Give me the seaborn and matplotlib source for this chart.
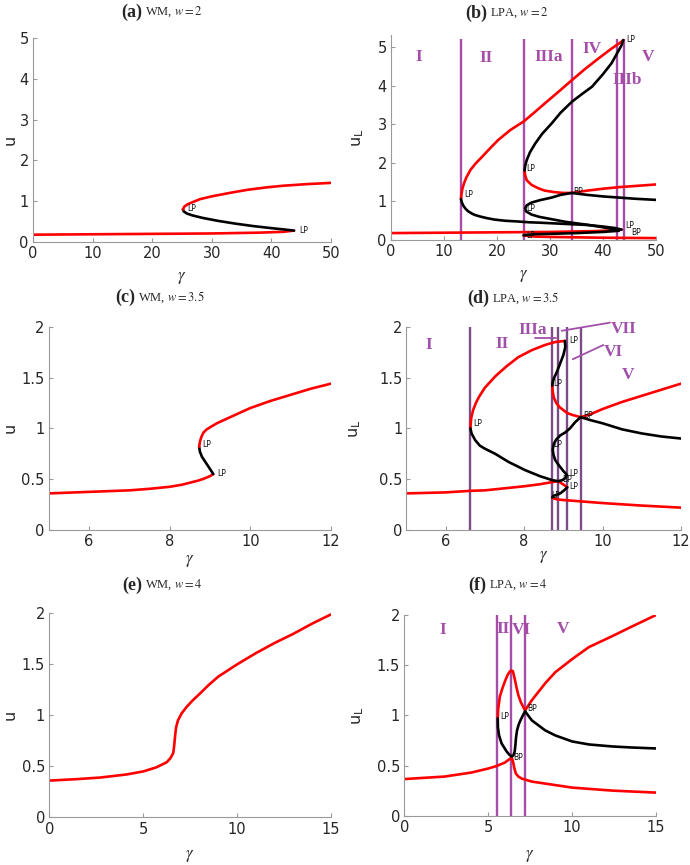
import seaborn as sns
import matplotlib.pyplot as plt
from matplotlib.ticker import FormatStrFormatter

# ---------------- (a) WM, w = 2 ----------------
a_red1_g = [0, 10, 20, 30, 38, 42, 43.8]
a_red1_u = [0.18, 0.19, 0.2, 0.21, 0.23, 0.25, 0.28]
a_blk_g = [43.8, 42, 40, 37, 34, 31, 28.5, 26.8, 25.8, 25.3, 25.15]
a_blk_u = [0.28, 0.31, 0.34, 0.39, 0.45, 0.52, 0.59, 0.65, 0.7, 0.75, 0.8]
a_red2_g = [25.15, 25.4, 26, 27, 28, 30, 33.6, 36, 39.2, 42, 46, 50]
a_red2_u = [0.8, 0.87, 0.93, 0.99, 1.05, 1.12, 1.22, 1.28, 1.34, 1.38, 1.42, 1.45]

# ---------------- (b) LPA, w = 2 ----------------
b_red1_g = [0, 10, 20, 30, 38, 42, 43.5]
b_red1_u = [0.18, 0.19, 0.2, 0.21, 0.23, 0.25, 0.27]
b_blk1_g = [43.5, 42.3, 40, 37, 34, 31, 28, 26, 24, 21.5, 19.5, 18, 16.8, 15.8, 15.2, 14.5, 14, 13.6, 13.35, 13.2]
b_blk1_u = [0.27, 0.31, 0.35, 0.39, 0.41, 0.43, 0.45, 0.46, 0.48, 0.5, 0.53, 0.57, 0.61, 0.65, 0.69, 0.75, 0.82, 0.9, 0.98, 1.06]
b_red2_g = [13.2, 13.3, 13.5, 13.8, 14.2, 15, 16, 17, 18.5, 20.2, 22.5, 25, 27, 29.1, 31.5, 34.1, 36.5, 39.1, 41.5, 43.5, 43.8]
b_red2_u = [1.06, 1.2, 1.35, 1.48, 1.62, 1.82, 1.99, 2.13, 2.35, 2.59, 2.85, 3.07, 3.3, 3.55, 3.83, 4.14, 4.42, 4.7, 4.95, 5.14, 5.18]
b_blk2_g = [43.8, 43.5, 42.5, 41.6, 40, 37.9, 36, 34.1, 32, 30.3, 28.5, 27.2, 26.2, 25.6, 25.3, 25.2]
b_blk2_u = [5.18, 5.05, 4.8, 4.58, 4.3, 3.97, 3.78, 3.58, 3.3, 3.02, 2.75, 2.5, 2.27, 2.07, 1.92, 1.8]
b_red3_g = [25.2, 25.3, 25.6, 26.5, 27.8, 29, 30.9, 32.5, 34.1, 37, 40, 43, 46, 50]
b_red3_u = [1.8, 1.68, 1.55, 1.43, 1.34, 1.28, 1.24, 1.22, 1.22, 1.28, 1.33, 1.37, 1.4, 1.44]
b_blk3_g = [34.1, 37, 40, 43, 46, 50]
b_blk3_u = [1.22, 1.17, 1.13, 1.1, 1.07, 1.04]
b_blk4_g = [34.1, 32, 30.3, 28, 26.5, 25.6, 25.3, 25.5, 26.5, 28, 30.3, 33, 37.3, 40, 42, 43]
b_blk4_u = [1.22, 1.17, 1.1, 1.03, 0.97, 0.9, 0.82, 0.74, 0.66, 0.6, 0.54, 0.47, 0.39, 0.33, 0.28, 0.26]
b_blk5_g = [43, 40, 35, 30, 27, 25.3, 25]
b_blk5_u = [0.24, 0.21, 0.18, 0.16, 0.15, 0.13, 0.12]
b_red4_g = [25, 27, 30, 35, 40, 45, 50]
b_red4_u = [0.12, 0.09, 0.08, 0.07, 0.06, 0.055, 0.05]
b_vlines = [13.2, 25, 34.1, 42.7, 43.9]
b_regions = ['I', 'II', 'IIIa', 'IV', 'V', 'IIIb']

# ---------------- (c) WM, w = 3.5 ----------------
c_red1_g = [5, 6, 7, 7.5, 8, 8.3, 8.5, 8.7, 8.85, 9.0, 9.08]
c_red1_u = [0.36, 0.375, 0.39, 0.405, 0.425, 0.445, 0.465, 0.485, 0.505, 0.53, 0.55]
c_blk_g = [9.08, 9.0, 8.9, 8.8, 8.75, 8.73]
c_blk_u = [0.55, 0.6, 0.66, 0.72, 0.77, 0.82]
c_red2_g = [8.73, 8.75, 8.79, 8.84, 8.92, 9.0, 9.17, 9.5, 10, 10.5, 11, 11.5, 12]
c_red2_u = [0.82, 0.87, 0.92, 0.96, 0.99, 1.01, 1.05, 1.11, 1.2, 1.27, 1.33, 1.39, 1.44]

# ---------------- (d) LPA, w = 3.5 ----------------
d_red1_g = [5, 6, 6.63, 7, 7.5, 8, 8.4, 8.7, 8.87]
d_red1_u = [0.36, 0.37, 0.385, 0.39, 0.41, 0.43, 0.45, 0.47, 0.48]
d_red2_g = [8.87, 8.95, 9.03, 9.1]
d_red2_u = [0.48, 0.46, 0.44, 0.42]
d_blk1_g = [9.1, 9.02, 8.92, 8.82, 8.74, 8.72]
d_blk1_u = [0.42, 0.39, 0.36, 0.345, 0.335, 0.32]
d_red3_g = [8.72, 8.76, 8.85, 9.0, 9.5, 10, 11, 12]
d_red3_u = [0.32, 0.31, 0.3, 0.295, 0.28, 0.265, 0.24, 0.22]
d_blk2_g = [6.63, 6.66, 6.75, 6.87, 7.0, 7.26, 7.6, 8.02, 8.4, 8.72, 8.87]
d_blk2_u = [1.0, 0.95, 0.885, 0.83, 0.8, 0.75, 0.67, 0.59, 0.53, 0.49, 0.48]
d_red4_g = [6.63, 6.65, 6.7, 6.77, 6.85, 7.0, 7.26, 7.55, 7.85, 8.2, 8.53, 8.8, 9.04]
d_red4_u = [1.0, 1.1, 1.18, 1.25, 1.31, 1.4, 1.51, 1.61, 1.7, 1.77, 1.82, 1.85, 1.86]
d_blk3_g = [9.04, 9.05, 9.0, 8.92, 8.84, 8.77, 8.73, 8.72]
d_blk3_u = [1.86, 1.8, 1.72, 1.64, 1.56, 1.5, 1.46, 1.42]
d_red5_g = [8.72, 8.73, 8.76, 8.82, 8.9, 9.0, 9.1, 9.25, 9.44, 9.7, 10, 10.5, 11, 11.5, 12]
d_red5_u = [1.42, 1.36, 1.3, 1.25, 1.21, 1.18, 1.15, 1.13, 1.11, 1.14, 1.19, 1.26, 1.32, 1.38, 1.44]
d_blk4_g = [9.44, 9.7, 10, 10.5, 11, 11.5, 12]
d_blk4_u = [1.11, 1.08, 1.05, 0.99, 0.95, 0.92, 0.9]
d_blk5_g = [9.44, 9.3, 9.17, 9.05, 8.92, 8.82, 8.76, 8.73, 8.75, 8.79, 8.86, 8.92, 9.0, 9.05, 9.09, 9.05, 8.97, 8.87]
d_blk5_u = [1.11, 1.06, 1.0, 0.96, 0.93, 0.89, 0.85, 0.79, 0.74, 0.69, 0.65, 0.62, 0.58, 0.56, 0.54, 0.51, 0.49, 0.48]
d_vlines = [6.63, 8.70, 8.87, 9.10, 9.44]

# ---------------- (e) WM, w = 4 ----------------
e_red_g = [0, 1.5, 2.7, 4.1, 5, 5.7, 6.25, 6.45, 6.6, 6.65, 6.7, 6.75, 6.85, 7.05, 7.3, 7.6,
           8.0, 8.5, 9, 10, 11, 12, 13, 14, 15]
e_red_u = [0.36, 0.375, 0.39, 0.42, 0.45, 0.49, 0.54, 0.58, 0.63, 0.7, 0.8, 0.88, 0.95, 1.02, 1.08, 1.14,
           1.21, 1.3, 1.38, 1.5, 1.61, 1.71, 1.8, 1.9, 1.99]

# ---------------- (f) LPA, w = 4 ----------------
f_red1_g = [0, 2.4, 4, 5, 5.5, 6, 6.4]
f_red1_u = [0.365, 0.39, 0.43, 0.47, 0.495, 0.53, 0.58]
f_red2_g = [6.4, 6.48, 6.55, 6.65, 6.8, 7.0, 7.2, 7.6, 8.4, 10, 12.4, 15]
f_red2_u = [0.58, 0.54, 0.48, 0.42, 0.39, 0.37, 0.36, 0.34, 0.32, 0.28, 0.25, 0.23]
f_red3_g = [5.57, 5.6, 5.7, 5.85, 6.0, 6.15, 6.3, 6.4, 6.47, 6.53, 6.6, 6.7, 6.8, 6.95, 7.1, 7.2]
f_red3_u = [0.97, 1.07, 1.19, 1.27, 1.34, 1.4, 1.44, 1.445, 1.44, 1.4, 1.35, 1.27, 1.2, 1.13, 1.08, 1.05]
f_red4_g = [7.2, 7.6, 8.4, 9, 10, 11, 12.4, 13.5, 15]
f_red4_u = [1.05, 1.15, 1.32, 1.43, 1.56, 1.68, 1.79, 1.88, 2.0]
f_blk1_g = [5.57, 5.58, 5.65, 5.8, 5.95, 6.1, 6.25, 6.4]
f_blk1_u = [0.97, 0.88, 0.8, 0.72, 0.68, 0.64, 0.61, 0.59]
f_blk2_g = [6.4, 6.5, 6.58, 6.62, 6.66, 6.72, 6.82, 6.95, 7.1, 7.2]
f_blk2_u = [0.59, 0.6, 0.64, 0.7, 0.78, 0.85, 0.91, 0.96, 1.01, 1.04]
f_blk3_g = [7.2, 7.6, 8.4, 9, 10, 11, 12.4, 13.5, 15]
f_blk3_u = [1.04, 0.95, 0.85, 0.8, 0.74, 0.71, 0.69, 0.68, 0.67]
f_vlines = [5.5, 6.36, 7.2]

RED = '#ff0000'
PURPLE = '#a64ca9'
DPURPLE = '#7b4d86'
LPURPLE = '#a050aa'
SERIF = 'Liberation Serif'

sns.set_style('ticks')
plt.rcParams['font.family'] = 'DejaVu Sans'
plt.rcParams['mathtext.fontset'] = 'stix'


def branch(ax, g, u, color):
    sns.lineplot(x=g, y=u, ax=ax, sort=False, estimator=None, color=color, lw=1.9)


def setup(ax, xlim, ylim, xticks, yticks, ylabel, ylx, xly):
    ax.set_xlim(xlim)
    ax.set_ylim(ylim)
    ax.set_xticks(xticks)
    ax.set_yticks(yticks)
    ax.yaxis.set_major_formatter(FormatStrFormatter('%g'))
    sns.despine(ax=ax)
    for s in ['left', 'bottom']:
        ax.spines[s].set_color('#9a9a9a')
        ax.spines[s].set_linewidth(0.8)
    ax.tick_params(direction='in', length=3, color='#9a9a9a', labelcolor='#262626',
                   labelsize=10.5, pad=3)
    ax.set_xlabel(r'$\gamma$', fontsize=12, color='#262626')
    ax.xaxis.set_label_coords(0.5, xly)
    ax.xaxis.label.set_va('center')
    ax.set_ylabel(ylabel, fontsize=11.5, color='#262626')
    ax.yaxis.label.set_va('center')
    ax.yaxis.set_label_coords(ylx, 0.5)


def tags(ax, items):
    for g, u, t in items:
        ax.text(g, u, t, fontsize=5.5, ha='left', va='center', color='#111111')


def region(ax, g, u, t, color):
    ax.text(g, u, t, family=SERIF, fontweight='bold', fontsize=12.5, color=color,
            ha='center', va='center', clip_on=False)


def title(x, y, bold, rest):
    fig.text(x / 690, 1 - y / 865, bold, family=SERIF, fontweight='bold', fontsize=13,
             ha='right', va='center')
    fig.text((x + 3) / 690, 1 - y / 865, rest, family=SERIF, fontsize=9,
             ha='left', va='center')


fig = plt.figure(figsize=(6.9, 8.65), dpi=100)
axa = fig.add_axes([0.0478, 0.7202, 0.4319, 0.2358])
axb = fig.add_axes([0.5667, 0.7225, 0.3841, 0.2365])
axc = fig.add_axes([0.0706, 0.3873, 0.4091, 0.2350])
axd = fig.add_axes([0.5891, 0.3873, 0.3978, 0.2350])
axe = fig.add_axes([0.0714, 0.0551, 0.4083, 0.2358])
axf = fig.add_axes([0.5859, 0.0570, 0.3648, 0.2320])

# (a)
branch(axa, a_red1_g, a_red1_u, RED)
branch(axa, a_blk_g, a_blk_u, 'k')
branch(axa, a_red2_g, a_red2_u, RED)
tags(axa, [(25.8, 0.83, 'LP'), (44.6, 0.29, 'LP')])
setup(axa, (0, 50), (0, 5), range(0, 51, 10), range(0, 6), 'u', -0.077, -0.17)

# (b)
axb.vlines(b_vlines, 0, 5.22, color=PURPLE, lw=1.7, zorder=1)
for g, u in [(b_red1_g, b_red1_u), (b_red2_g, b_red2_u), (b_red3_g, b_red3_u), (b_red4_g, b_red4_u)]:
    branch(axb, g, u, RED)
for g, u in [(b_blk1_g, b_blk1_u), (b_blk2_g, b_blk2_u), (b_blk3_g, b_blk3_u),
             (b_blk4_g, b_blk4_u), (b_blk5_g, b_blk5_u)]:
    branch(axb, g, u, 'k')
for (g, u), t in zip([(5.3, 4.75), (18, 4.72), (29.8, 4.75), (37.9, 4.95), (48.4, 4.75), (44.5, 4.15)],
                     b_regions):
    region(axb, g, u, t, PURPLE)
tags(axb, [(13.85, 1.17, 'LP'), (25.6, 1.86, 'LP'), (34.4, 1.27, 'BP'), (25.6, 0.82, 'LP'),
           (25.6, 0.12, 'LP'), (44.3, 5.2, 'LP'), (44.2, 0.38, 'LP'), (45.3, 0.2, 'BP')])
setup(axb, (0, 50), (0, 5.3), range(0, 51, 10), range(0, 6), r'$\mathregular{u_L}$', -0.125, -0.17)

# (c)
branch(axc, c_red1_g, c_red1_u, RED)
branch(axc, c_blk_g, c_blk_u, 'k')
branch(axc, c_red2_g, c_red2_u, RED)
tags(axc, [(8.8, 0.84, 'LP'), (9.17, 0.56, 'LP')])
setup(axc, (5, 12), (0, 2), [6, 8, 10, 12], [0, 0.5, 1, 1.5, 2], 'u', -0.137, -0.15)

# (d)
axd.vlines(d_vlines, 0, 2, color=DPURPLE, lw=1.7, zorder=1)
for g, u in [(d_red1_g, d_red1_u), (d_red2_g, d_red2_u), (d_red3_g, d_red3_u),
             (d_red4_g, d_red4_u), (d_red5_g, d_red5_u)]:
    branch(axd, g, u, RED)
for g, u in [(d_blk1_g, d_blk1_u), (d_blk2_g, d_blk2_u), (d_blk3_g, d_blk3_u),
             (d_blk4_g, d_blk4_u), (d_blk5_g, d_blk5_u)]:
    branch(axd, g, u, 'k')
region(axd, 5.56, 1.82, 'I', LPURPLE)
region(axd, 7.43, 1.83, 'II', LPURPLE)
region(axd, 8.21, 1.97, 'IIIa', LPURPLE)
region(axd, 10.53, 1.98, 'VII', LPURPLE)
region(axd, 10.28, 1.75, 'VI', LPURPLE)
region(axd, 10.66, 1.52, 'V', LPURPLE)
axd.plot([8.28, 8.81], [1.885, 1.885], color=LPURPLE, lw=1.3, clip_on=False)
axd.plot([8.96, 10.19], [1.96, 2.04], color=LPURPLE, lw=1.3, clip_on=False)
axd.plot([9.24, 10.02], [1.68, 1.82], color=LPURPLE, lw=1.3, clip_on=False)
tags(axd, [(9.15, 1.86, 'LP'), (8.75, 1.44, 'LP'), (9.52, 1.13, 'BP'), (8.75, 0.84, 'LP'),
           (9.15, 0.56, 'LP'), (8.96, 0.5, 'BP'), (9.15, 0.43, 'LP'), (8.7, 0.34, 'LP'),
           (6.7, 1.05, 'LP')])
setup(axd, (5, 12), (0, 2), [6, 8, 10, 12], [0, 0.5, 1, 1.5, 2], r'$\mathregular{u_L}$', -0.188, -0.13)

# (e)
branch(axe, e_red_g, e_red_u, RED)
setup(axe, (0, 15), (0, 2), [0, 5, 10, 15], [0, 0.5, 1, 1.5, 2], 'u', -0.14, -0.185)

# (f)
axf.vlines(f_vlines, 0, 2, color=PURPLE, lw=1.7, zorder=1)
for g, u in [(f_red1_g, f_red1_u), (f_red2_g, f_red2_u), (f_red3_g, f_red3_u), (f_red4_g, f_red4_u)]:
    branch(axf, g, u, RED)
for g, u in [(f_blk1_g, f_blk1_u), (f_blk2_g, f_blk2_u), (f_blk3_g, f_blk3_u)]:
    branch(axf, g, u, 'k')
region(axf, 2.27, 1.85, 'I', PURPLE)
region(axf, 5.88, 1.86, 'II', PURPLE)
region(axf, 6.95, 1.85, 'VI', PURPLE)
region(axf, 9.48, 1.86, 'V', PURPLE)
tags(axf, [(5.7, 0.99, 'LP'), (7.3, 1.07, 'BP'), (6.5, 0.58, 'BP')])
setup(axf, (0, 15), (0, 2), [0, 5, 10, 15], [0, 0.5, 1, 1.5, 2], r'$\mathregular{u_L}$', -0.184, -0.195)

title(142, 12, '(a)', r'WM, $w = 2$')
title(487, 13, '(b)', r'LPA, $w = 2$')
title(135, 297, '(c)', r'WM, $w = 3.5$')
title(489, 298, '(d)', r'LPA, $w = 3.5$')
title(142, 585, '(e)', r'WM, $w = 4$')
title(486, 585, '(f)', r'LPA, $w = 4$')

fig.savefig('out.png', dpi=100)
